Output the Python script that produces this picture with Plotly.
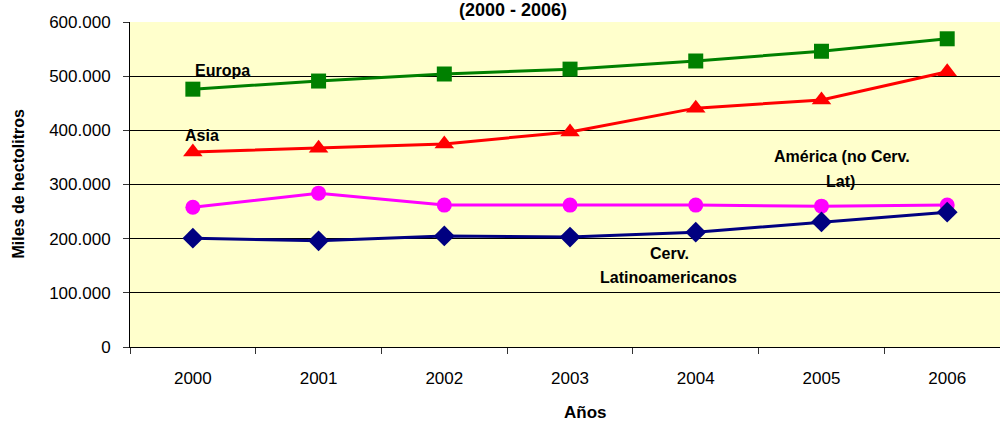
import plotly.graph_objects as go

years = ["2000", "2001", "2002", "2003", "2004", "2005", "2006"]
europa = [476000, 491000, 504000, 513000, 528000, 546000, 569000]
asia = [360000, 367000, 375000, 397000, 441000, 456000, 508000]
america = [258000, 284000, 262000, 262000, 262000, 260000, 262000]
cerv_lat = [201000, 196000, 205000, 203000, 212000, 231000, 249000]

FONT = "Liberation Sans, Arial, sans-serif"

fig = go.Figure()

series = [
    ("Europa", europa, "#008000", "square", 15),
    ("Asia", asia, "#FF0000", "triangle-up", 17),
    ("América (no Cerv. Lat)", america, "#FF00FF", "circle", 15),
    ("Cerv. Latinoamericanos", cerv_lat, "#000080", "diamond", 16),
]
for name, vals, color, symbol, size in series:
    fig.add_trace(go.Scatter(
        x=years, y=vals, mode="lines+markers", name=name,
        line=dict(color=color, width=3),
        marker=dict(symbol=symbol, size=size, color=color),
    ))

# series labels, one annotation per text line
labels = [
    ("Europa", 0, 511000, "left", 0),
    ("Asia", 0, 391000, "left", -10),
    ("América (no Cerv.", 5.16, 351000, "center", 0),
    ("Lat)", 5.15, 305000, "center", 0),
    ("Cerv.", 3.79, 173500, "center", 0),
    ("Latinoamericanos", 3.78, 129000, "center", 0),
]
for text, xi, yv, anchor, xshift in labels:
    fig.add_annotation(
        x=xi, y=yv, text=text, showarrow=False,
        xanchor=anchor, yanchor="middle", xshift=xshift,
        font=dict(family=FONT, size=16, color="#000000", weight="bold"),
    )

# axis titles placed by hand
fig.add_annotation(
    x=0, y=0.5, xref="paper", yref="paper", xshift=-112,
    text="<b>Miles de hectolitros</b>", textangle=-90, showarrow=False,
    xanchor="center", yanchor="middle",
    font=dict(family=FONT, size=16, color="#000000"),
)
fig.add_annotation(
    x=(585 - 130) / 870, y=0, xref="paper", yref="paper", yshift=-65,
    text="<b>Años</b>", showarrow=False,
    xanchor="center", yanchor="middle",
    font=dict(family=FONT, size=17, color="#000000"),
)

fig.update_layout(
    width=1000, height=423,
    margin=dict(l=130, r=0, t=22, b=76),
    paper_bgcolor="#FFFFFF", plot_bgcolor="#FFFFCC",
    showlegend=False,
    separators=",.",
    font=dict(family=FONT, size=17, color="#000000"),
    title=dict(text="<b>(2000 - 2006)</b>", x=0.513, xanchor="center",
               y=1 - 10 / 423, yanchor="middle", font=dict(family=FONT, size=18)),
    xaxis=dict(
        type="category", range=[-0.5, 6.42], tickson="boundaries",
        ticks="outside", ticklen=6, tickcolor="#333333",
        ticklabelstandoff=16,
        showline=True, linecolor="#000000", linewidth=1,
        showgrid=False,
    ),
    yaxis=dict(
        range=[0, 600000], dtick=100000, tickformat=",",
        ticks="outside", ticklen=6, tickcolor="#333333",
        ticklabelstandoff=9,
        showline=True, linecolor="#000000", linewidth=1,
        showgrid=True, gridcolor="#000000", gridwidth=1,
        zeroline=False,
    ),
)

fig.write_html("out.html", config={"displayModeBar": False},
               post_script="document.body.style.margin='0';")
